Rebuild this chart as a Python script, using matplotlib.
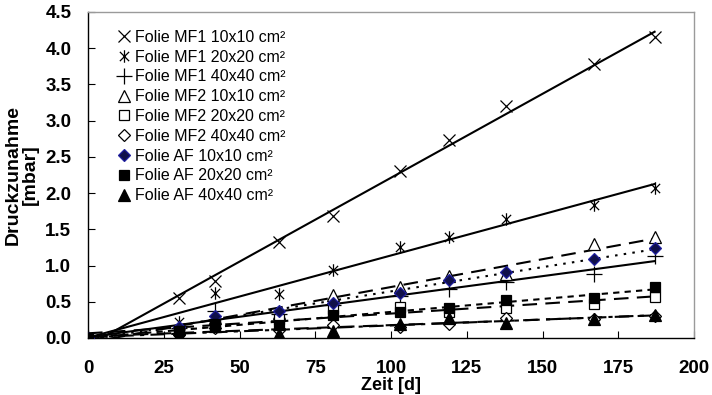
import numpy as np
import matplotlib
matplotlib.use("Agg")
import matplotlib.pyplot as plt
from matplotlib.path import Path

plt.rcParams['font.family'] = ['Liberation Sans', 'DejaVu Sans']

days = [0, 30, 42, 63, 81, 103, 119, 138, 167, 187]
mf1_10 = [0, 0.55, 0.79, 1.32, 1.68, 2.30, 2.73, 3.20, 3.78, 4.15]
mf1_20 = [0, 0.22, 0.62, 0.61, 0.94, 1.26, 1.40, 1.64, 1.84, 2.07]
mf1_40 = [0, 0.14, 0.37, 0.33, 0.45, 0.58, 0.68, 0.77, 0.89, 1.13]
mf2_10 = [0, 0.13, 0.28, 0.35, 0.60, 0.71, 0.85, 0.88, 1.30, 1.40]
mf2_20 = [0, 0.09, 0.20, 0.26, 0.40, 0.43, 0.36, 0.41, 0.47, 0.56]
mf2_40 = [0, 0.05, 0.14, 0.11, 0.18, 0.15, 0.20, 0.27, 0.26, 0.31]
af_10 = [0, 0.15, 0.31, 0.37, 0.48, 0.62, 0.80, 0.91, 1.09, 1.24]
af_20 = [0, 0.10, 0.20, 0.18, 0.32, 0.36, 0.41, 0.52, 0.55, 0.71]
af_40 = [0, 0.04, 0.16, 0.06, 0.10, 0.20, 0.27, 0.21, 0.26, 0.32]

labels = ["Folie MF1 10x10 cm²", "Folie MF1 20x20 cm²", "Folie MF1 40x40 cm²",
          "Folie MF2 10x10 cm²", "Folie MF2 20x20 cm²", "Folie MF2 40x40 cm²",
          "Folie AF 10x10 cm²", "Folie AF 20x20 cm²", "Folie AF 40x40 cm²"]
series = [mf1_10, mf1_20, mf1_40, mf2_10, mf2_20, mf2_40, af_10, af_20, af_40]

# asterisk marker: X plus vertical bar
ast = Path([(-1, -1), (1, 1), (-1, 1), (1, -1), (0, -1.35), (0, 1.35)],
           [Path.MOVETO, Path.LINETO, Path.MOVETO, Path.LINETO, Path.MOVETO, Path.LINETO])

navy_face = '#10104a'
navy_edge = '#1f1fa0'
styles = [
    dict(marker='x', ms=9, mfc='none', mec='black', mew=0.9),
    dict(marker=ast, ms=9, mfc='none', mec='black', mew=0.9),
    dict(marker='+', ms=11, mfc='none', mec='black', mew=0.9),
    dict(marker='^', ms=8, mfc='white', mec='black', mew=0.9),
    dict(marker='s', ms=7, mfc='white', mec='black', mew=0.9),
    dict(marker='D', ms=6, mfc='white', mec='black', mew=0.9),
    dict(marker='D', ms=6, mfc=navy_face, mec=navy_edge, mew=0.9),
    dict(marker='s', ms=7, mfc='black', mec='black', mew=0.9),
    dict(marker='^', ms=8, mfc='black', mec='black', mew=0.9),
]
linestyles = ['-', '-', '-',
              (0, (7, 4)), (0, (7, 4)), (0, (7, 4)),
              (0, (1.2, 3)), (0, (3, 2.5)), (0, (7, 3, 2, 3))]

fig = plt.figure(figsize=(7.12, 3.95), dpi=100)
ax = fig.add_axes([88/712, 1-338/395, (694-88)/712, (338-12)/395])

x = np.array(days, dtype=float)
xs = np.linspace(min(days), max(days), 50)
for i, (y, lab, st, ls) in enumerate(zip(series, labels, styles, linestyles)):
    y = np.array(y)
    k, d = np.polyfit(x, y, 1)
    ax.plot(xs, k*xs + d, color='black', lw=1.5, linestyle=ls, zorder=2+i*0.01)
    ax.plot(x, y, linestyle='none', label=lab, zorder=3+i*0.01, **st)

ax.set_xlim(0, 200)
ax.set_ylim(0, 4.5)
ax.set_xticks(np.arange(0, 201, 25))
ax.set_yticks(np.arange(0, 4.51, 0.5))
ax.set_yticklabels([f"{v:.1f}" for v in np.arange(0, 4.51, 0.5)])
ax.tick_params(direction='in', length=5, width=0.8, labelsize=13.5)
ax.tick_params(axis='y', pad=12)
ax.tick_params(axis='x', pad=15.5)
for t in ax.get_xticklabels() + ax.get_yticklabels():
    t.set_fontweight('bold')

for s in ['left', 'bottom']:
    ax.spines[s].set_color('black')
    ax.spines[s].set_linewidth(1.0)
for s in ['top', 'right']:
    ax.spines[s].set_color('#9a9a9a')
    ax.spines[s].set_linewidth(1.0)

ax.set_xlabel("Zeit [d]", fontsize=13, fontweight='bold')
ax.xaxis.set_label_coords(0.5, -(386-338)/326, transform=ax.transAxes)
ax.xaxis.label.set_va('center')
ax.set_ylabel("Druckzunahme\n[mbar]", fontsize=14, fontweight='bold', linespacing=1.0)
ax.yaxis.set_label_coords(-(88-22)/606, 0.5, transform=ax.transAxes)
ax.yaxis.label.set_va('center')

leg = ax.legend(loc='upper left', bbox_to_anchor=(0.035, 0.965), frameon=False,
                fontsize=11.5, handlelength=1.0, handletextpad=0.2,
                labelspacing=0.3, borderaxespad=0.0)

fig.savefig("out.png", dpi=100)
